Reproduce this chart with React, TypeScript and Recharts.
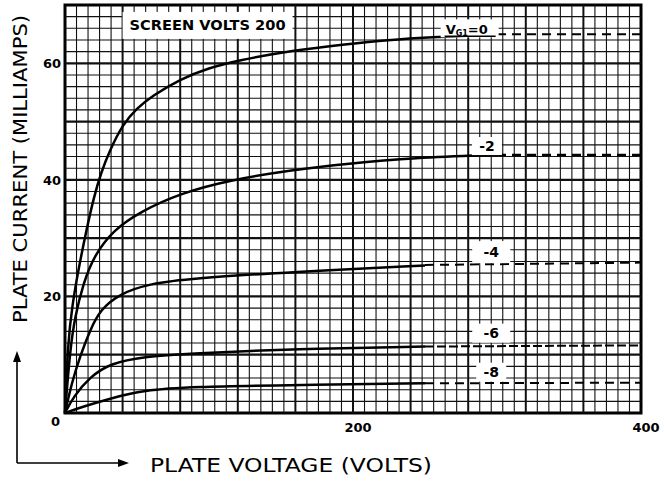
import { Line, LineChart, ReferenceArea, ReferenceDot, ReferenceLine, XAxis, YAxis } from 'recharts';

// plate characteristic curves (volts, milliamps)
const G0_V = [0, 2, 5, 10, 15, 20, 25, 31, 40, 50, 60, 80, 100, 120, 158, 196, 223, 258, 300];
const G0_MA = [0, 12, 18.5, 25.5, 31.5, 37, 41.2, 45, 49.5, 52.3, 54.3, 57.3, 59.2, 60.5, 62.2, 63.3, 64, 64.5, 65];
const G2_V = [0, 3.5, 6.9, 12.7, 19.7, 33.6, 52, 80, 115, 158, 196, 242, 300];
const G2_MA = [0, 10.8, 16.5, 22.2, 26.8, 31.4, 34.5, 37.7, 40, 41.7, 42.8, 43.8, 44.3];
const G4_V = [0, 4.6, 10.4, 17.4, 24.3, 38.2, 59, 87, 158, 250];
const G4_MA = [0, 5.1, 9.7, 14.2, 17.7, 20.5, 22.2, 23.1, 24.2, 25.3];
const G6_V = [0, 5.8, 17.4, 31.3, 54.4, 87, 160, 250];
const G6_MA = [0, 2.8, 6.2, 8.5, 9.7, 10.2, 11, 11.4];
const G8_V = [0, 12.7, 31.3, 54.4, 87, 163, 250];
const G8_MA = [0, 1.1, 2.5, 3.9, 4.5, 4.8, 5.1];

// dashed extensions to the right edge
const G0_EXT = [65, 65];
const G2_EXT = [44.3, 44.3];
const G4_EXT = [25.4, 25.8];
const G6_EXT = [11.4, 11.6];
const G8_EXT = [5.1, 5.2];
const EXT_V_HI = [300, 400];
const EXT_V_LO = [250, 400];

const X_TICKS = [200, 400];
const Y_TICKS = [0, 20, 40, 60];

// graph paper: 8 V by 2 mA squares
const GRID_X = Array.from({ length: 49 }, (_, i) => (i + 1) * 8);
const GRID_Y = Array.from({ length: 34 }, (_, i) => (i + 1) * 2);

const toPts = (v: number[], ma: number[]) => v.map((x, i) => ({ v: x, ma: ma[i] }));

const FONT = '"DejaVu Sans", sans-serif';

function box(w: number, h: number, body: (cx: number, cy: number) => any) {
    return (p: any) => (
        <g>
            <rect x={p.cx - w / 2} y={p.cy - h / 2} width={w} height={h} fill="#fff" />
            {body(p.cx, p.cy)}
        </g>
    );
}

const curveLabel = (txt: string) => (cx: number, cy: number) => (
    <text x={cx} y={cy + 5} textAnchor="middle" fontFamily={FONT} fontWeight="bold" fontSize={14}>{txt}</text>
);

function YTick({ x, y, payload }: any) {
    const zero = payload.value === 0;
    return (
        <text x={zero ? x + 3 : x + 4} y={zero ? y + 13 : y + 5} textAnchor="end"
            fontFamily={FONT} fontWeight="bold" fontSize={13}>{payload.value}</text>
    );
}

function XTick({ x, y, payload }: any) {
    return (
        <text x={x + 5} y={y + 11} textAnchor="middle" fontFamily={FONT} fontWeight="bold" fontSize={13}>
            {payload.value}
        </text>
    );
}

export default function App() {
    const lineProps = { type: 'monotone' as const, dataKey: 'ma', stroke: '#000', dot: false, isAnimationActive: false };
    return (
        <div style={{ position: 'absolute', left: 0, top: 0, width: 664, height: 481, background: '#fff' }}>
            <LineChart width={664} height={481} margin={{ top: 5, right: 23, bottom: 0, left: 0 }}>
                <XAxis dataKey="v" type="number" domain={[0, 400]} ticks={X_TICKS} height={68}
                    axisLine={false} tickLine={false} tick={<XTick />} />
                <YAxis type="number" domain={[0, 70]} ticks={Y_TICKS} width={65}
                    axisLine={false} tickLine={false} tick={<YTick />} />

                {GRID_X.map((g, i) => (
                    <ReferenceLine key={'gx' + g} x={g} stroke="#111" strokeWidth={(i + 1) % 5 === 0 ? 2 : 1.1} />
                ))}
                {GRID_Y.map((g, i) => (
                    <ReferenceLine key={'gy' + g} y={g} stroke="#111" strokeWidth={(i + 1) % 5 === 0 ? 2.2 : 1.1} />
                ))}
                <ReferenceArea x1={0} x2={400} y1={0} y2={70} fill="none" stroke="#000" strokeWidth={3} />

                <ReferenceDot x={99} y={66.5} r={0} shape={box(170, 27, (cx, cy) => (
                    <text x={cx} y={cy + 5} textAnchor="middle" fontFamily={FONT} fontWeight="bold"
                        fontSize={14} textLength={156} lengthAdjust="spacingAndGlyphs">SCREEN VOLTS 200</text>
                ))} />
                <ReferenceDot x={281} y={66} r={0} shape={box(58, 18, (cx, cy) => (
                    <g>
                        <text x={cx - 24} y={cy + 6} fontFamily={FONT} fontWeight="bold" fontSize={13}>
                            V<tspan fontSize={8} dy={2}>G1</tspan><tspan dy={-2}>=0</tspan>
                        </text>
                        <line x1={cx - 25} x2={cx + 26} y1={cy + 8} y2={cy + 8} stroke="#000" strokeWidth={1.5} />
                    </g>
                ))} />
                <ReferenceDot x={293} y={45.8} r={0} shape={box(30, 18, curveLabel('-2'))} />
                <ReferenceDot x={296} y={27.6} r={0} shape={box(38, 22, curveLabel('-4'))} />
                <ReferenceDot x={296} y={13.7} r={0} shape={box(38, 19, curveLabel('-6'))} />
                <ReferenceDot x={296} y={7} r={0} shape={box(30, 19, curveLabel('-8'))} />

                <Line {...lineProps} type="basis" data={toPts(G0_V, G0_MA)} strokeWidth={2.5} />
                <Line {...lineProps} type="basis" data={toPts(G2_V, G2_MA)} strokeWidth={2.5} />
                <Line {...lineProps} type="basis" data={toPts(G4_V, G4_MA)} strokeWidth={2.5} />
                <Line {...lineProps} type="basis" data={toPts(G6_V, G6_MA)} strokeWidth={2.5} />
                <Line {...lineProps} type="basis" data={toPts(G8_V, G8_MA)} strokeWidth={2.5} />

                <Line {...lineProps} type="linear" data={toPts(EXT_V_HI, G0_EXT)} strokeWidth={2} strokeDasharray="9 6" />
                <Line {...lineProps} type="linear" data={toPts(EXT_V_HI, G2_EXT)} strokeWidth={2.2} strokeDasharray="9 6" />
                <Line {...lineProps} type="linear" data={toPts(EXT_V_LO, G4_EXT)} strokeWidth={2} strokeDasharray="9 6" />
                <Line {...lineProps} type="linear" data={toPts(EXT_V_LO, G6_EXT)} strokeWidth={2} strokeDasharray="9 3" />
                <Line {...lineProps} type="linear" data={toPts(EXT_V_LO, G8_EXT)} strokeWidth={2} strokeDasharray="9 6" />
            </LineChart>

            <svg width={664} height={481} style={{ position: 'absolute', left: 0, top: 0, pointerEvents: 'none' }}>
                <text x={0} y={0} transform="translate(27,169) rotate(-90)" textAnchor="middle"
                    fontFamily={FONT} fontSize={19} textLength={308} lengthAdjust="spacingAndGlyphs">
                    PLATE CURRENT (MILLIAMPS)
                </text>
                <text x={150} y={472} fontFamily={FONT} fontSize={20} textLength={282} lengthAdjust="spacingAndGlyphs">
                    PLATE VOLTAGE (VOLTS)
                </text>
                <path d="M17 463 L17 358 M17 463 L122 463" stroke="#000" strokeWidth={1.6} fill="none" />
                <path d="M17 351 L13 362 L21 362 Z" fill="#000" />
                <path d="M129 463 L118 459 L118 467 Z" fill="#000" />
            </svg>
        </div>
    );
}
